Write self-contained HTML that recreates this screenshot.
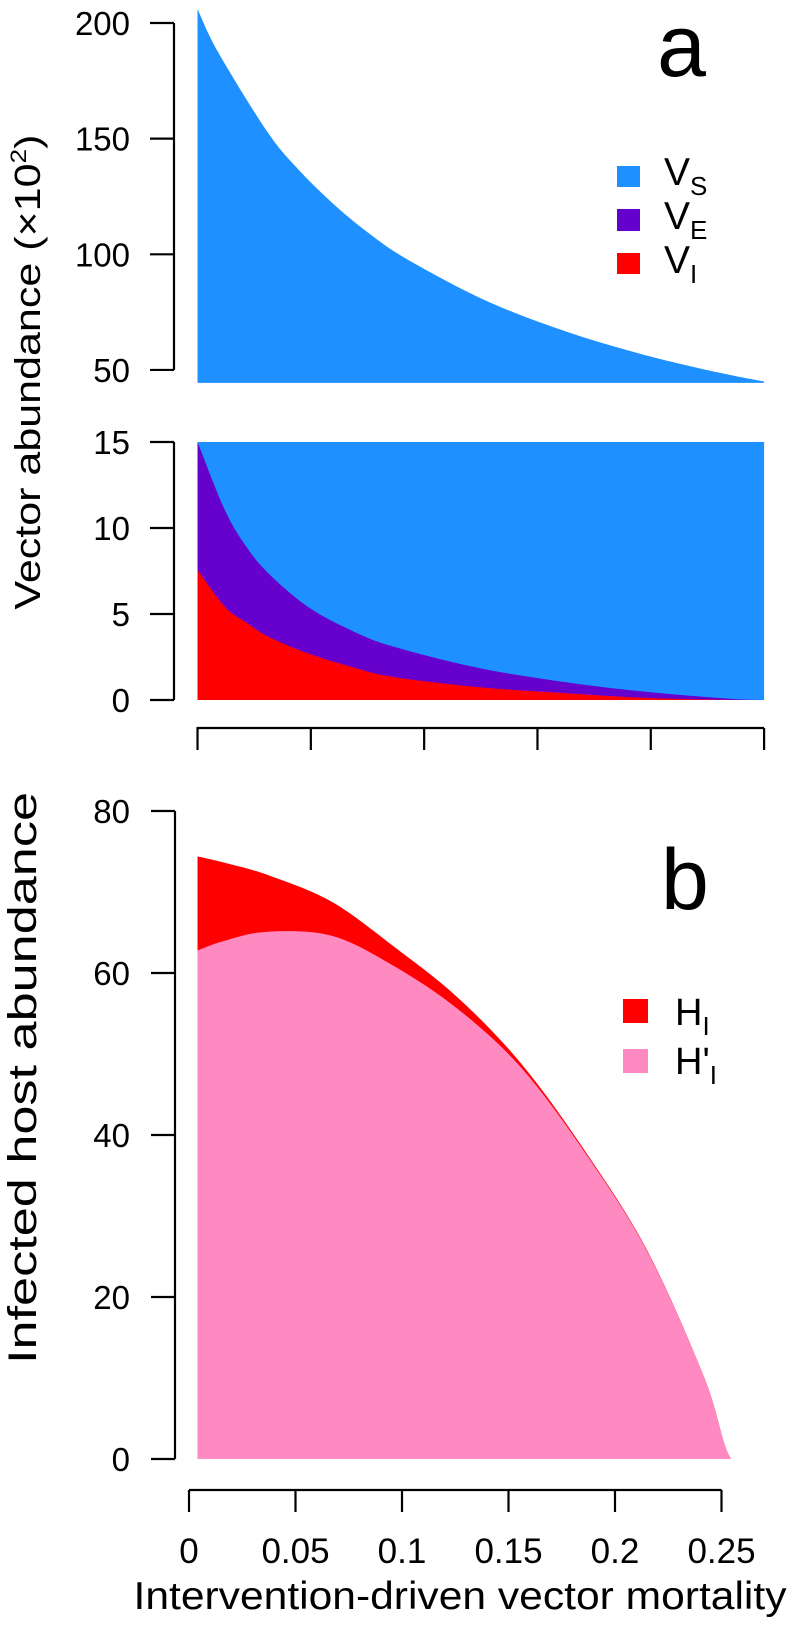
<!DOCTYPE html>
<html><head><meta charset="utf-8">
<style>
html,body{margin:0;padding:0;background:#fff;}
svg{display:block;font-family:"Liberation Sans",Arial,sans-serif;}
</style></head>
<body>
<svg id="chart" width="796" height="1625" viewBox="0 0 796 1625" xmlns="http://www.w3.org/2000/svg">
<g id="panel-a"></g>
<g id="panel-b"></g>
<text x="657" y="76" font-size="88">a</text>
<text x="661" y="909" font-size="86">b</text>
<g>
  <rect x="617" y="166" width="23" height="21" fill="#1E90FF"/>
  <rect x="617" y="209" width="23" height="22" fill="#6600CC"/>
  <rect x="617" y="253" width="23" height="21" fill="#FF0000"/>
  <text x="664" y="185" font-size="39">V<tspan font-size="26" dy="10">S</tspan></text>
  <text x="664" y="229" font-size="39">V<tspan font-size="26" dy="10">E</tspan></text>
  <text x="664" y="273" font-size="39">V<tspan font-size="26" dy="10">I</tspan></text>
</g>
<g>
  <rect x="623" y="999" width="25" height="24" fill="#FF0000"/>
  <rect x="623" y="1049" width="25" height="24" fill="#FF89C1"/>
  <text x="675" y="1025" font-size="38">H<tspan font-size="26" dy="10">I</tspan></text>
  <text x="675" y="1074" font-size="38">H'<tspan font-size="26" dy="10">I</tspan></text>
</g>
<text transform="translate(40,372) rotate(-90)" text-anchor="middle" font-size="36" textLength="475" lengthAdjust="spacingAndGlyphs">Vector abundance (×10<tspan font-size="22" dy="-14">2</tspan><tspan dy="14">)</tspan></text>
<text transform="translate(36,1078) rotate(-90)" text-anchor="middle" font-size="40" textLength="572" lengthAdjust="spacingAndGlyphs">Infected host abundance</text>
<text x="460" y="1609" text-anchor="middle" font-size="39" textLength="653" lengthAdjust="spacingAndGlyphs">Intervention-driven vector mortality</text>
</svg>
<script>
// ---- data ----
const mTop = [0.004,0.0136,0.036,0.050,0.068,0.086,0.104,0.140,0.177,0.213,0.248,0.270];
const vTotal = [206,187.5,154,138,121.6,108,97,79.7,66.6,56.7,49,45];
const mMid = [0.004,0.017,0.027,0.037,0.056,0.077,0.096,0.136,0.176,0.215,0.255,0.270];
const vEI = [15,11,8.9,7.4,5.4,4.0,3.1,1.86,1.05,0.47,0.06,0];
const vI = [7.56,5.4,4.5,3.7,2.7,1.9,1.34,0.75,0.4,0.12,0,0];
const vCap = 15;
const mBot = [0.004,0.017,0.037,0.067,0.096,0.126,0.156,0.186,0.215,0.242,0.2545,0.268];
const hI = [74.4,73.6,72.1,68.8,63.3,57,48.8,38,25.8,10,0,0];
const hPI = [62.8,64,65.1,64.6,60.9,55.6,48.3,37.8,25.7,10,0,0];
const ticksTop = [50,100,150,200];
const ticksMid = [0,5,10,15];
const ticksBot = [0,20,40,60,80];
const ticksX = [0,0.05,0.1,0.15,0.2,0.25];
const ticksXLabels = ["0","0.05","0.1","0.15","0.2","0.25"];

// ---- scales ----
const NS = "http://www.w3.org/2000/svg";
const xS = m => 189 + m * 2130;
const yTop = v => 23 + (200 - v) * 2.313;
const yMid = v => 700 - v * 17.2;
const yBot = v => 1459 - v * 8.1;
const topBase = 44.4;

function mk(tag, attrs, parent){
  const e = document.createElementNS(NS, tag);
  for (const k in attrs) e.setAttribute(k, attrs[k]);
  parent.appendChild(e);
  return e;
}
function smooth(pts, maxY){
  let d = "";
  for (let i = 0; i < pts.length; i++){
    if (i === 0){ d += "M" + pts[0][0] + "," + pts[0][1]; continue; }
    const p0 = pts[Math.max(0,i-2)], p1 = pts[i-1], p2 = pts[i], p3 = pts[Math.min(pts.length-1,i+1)];
    const c1 = [p1[0] + (p2[0]-p0[0])/6, Math.min(maxY, p1[1] + (p2[1]-p0[1])/6)];
    const c2 = [p2[0] - (p3[0]-p1[0])/6, Math.min(maxY, p2[1] - (p3[1]-p1[1])/6)];
    d += "C" + c1[0] + "," + c1[1] + " " + c2[0] + "," + c2[1] + " " + p2[0] + "," + p2[1];
  }
  return d;
}
function area(xs, ys, yfun, base, fill, parent, name){
  const pts = xs.map((m,i) => [xS(m), yfun(ys[i])]);
  let d = smooth(pts, yfun(base));
  d += "L" + xS(xs[xs.length-1]) + "," + yfun(base) + "L" + xS(xs[0]) + "," + yfun(base) + "Z";
  const p = mk("path", {d: d, fill: fill}, parent);
  
  
  return p;
}
function yAxis(ticks, yfun, x, parent, name){
  const g = mk("g", {}, parent);
  
  
  const ys = ticks.map(yfun);
  mk("line", {x1:x, x2:x, y1:Math.min(...ys), y2:Math.max(...ys), stroke:"#000", "stroke-width":2.2}, g);
  ticks.forEach(t => {
    const y = yfun(t);
    mk("line", {x1:x-24, x2:x, y1:y, y2:y, stroke:"#000", "stroke-width":2.2}, g);
    const tx = mk("text", {x:130, y:y+12, "text-anchor":"end", "font-size":33}, g);
    
    
    tx.textContent = t;
  });
}

const pa = document.getElementById("panel-a");
const pb = document.getElementById("panel-b");

// panel a top
area(mTop, vTotal, yTop, topBase, "#1E90FF", pa, "vs-area-upper");
yAxis(ticksTop, yTop, 174, pa, "y-axis-upper");
// panel a middle
const capArr = mMid.map(() => vCap);
area(mMid, capArr, yMid, 0, "#1E90FF", pa, "vs-area-lower");
area(mMid, vEI, yMid, 0, "#6600CC", pa, "ve-area");
area(mMid, vI, yMid, 0, "#FF0000", pa, "vi-area");
yAxis(ticksMid, yMid, 174, pa, "y-axis-lower");
// panel a x-axis (unlabelled, spans data range)
const gxa = mk("g", {}, pa);


const m0 = mMid[0], m1 = mMid[mMid.length-1];
mk("line", {x1:xS(m0)-1, x2:xS(m1), y1:728, y2:728, stroke:"#000", "stroke-width":2.2}, gxa);
for (let i = 0; i <= 5; i++){
  const x = xS(m0 + (m1-m0)*i/5);
  mk("line", {x1:x, x2:x, y1:728, y2:750, stroke:"#000", "stroke-width":2.2}, gxa);
}

// panel b
area(mBot, hI, yBot, 0, "#FF0000", pb, "hi-area");
area(mBot, hPI, yBot, 0, "#FF89C1", pb, "hpi-area");
yAxis(ticksBot, yBot, 175, pb, "y-axis-b");
const gxb = mk("g", {}, pb);


mk("line", {x1:xS(ticksX[0]), x2:xS(ticksX[ticksX.length-1]), y1:1490, y2:1490, stroke:"#000", "stroke-width":2.2}, gxb);
ticksX.forEach((t,i) => {
  const x = xS(t);
  mk("line", {x1:x, x2:x, y1:1490, y2:1512, stroke:"#000", "stroke-width":2.2}, gxb);
  const tx = mk("text", {x:x, y:1563, "text-anchor":"middle", "font-size":35}, gxb);
  
  
  tx.textContent = ticksXLabels[i];
});
</script>
</body></html>
